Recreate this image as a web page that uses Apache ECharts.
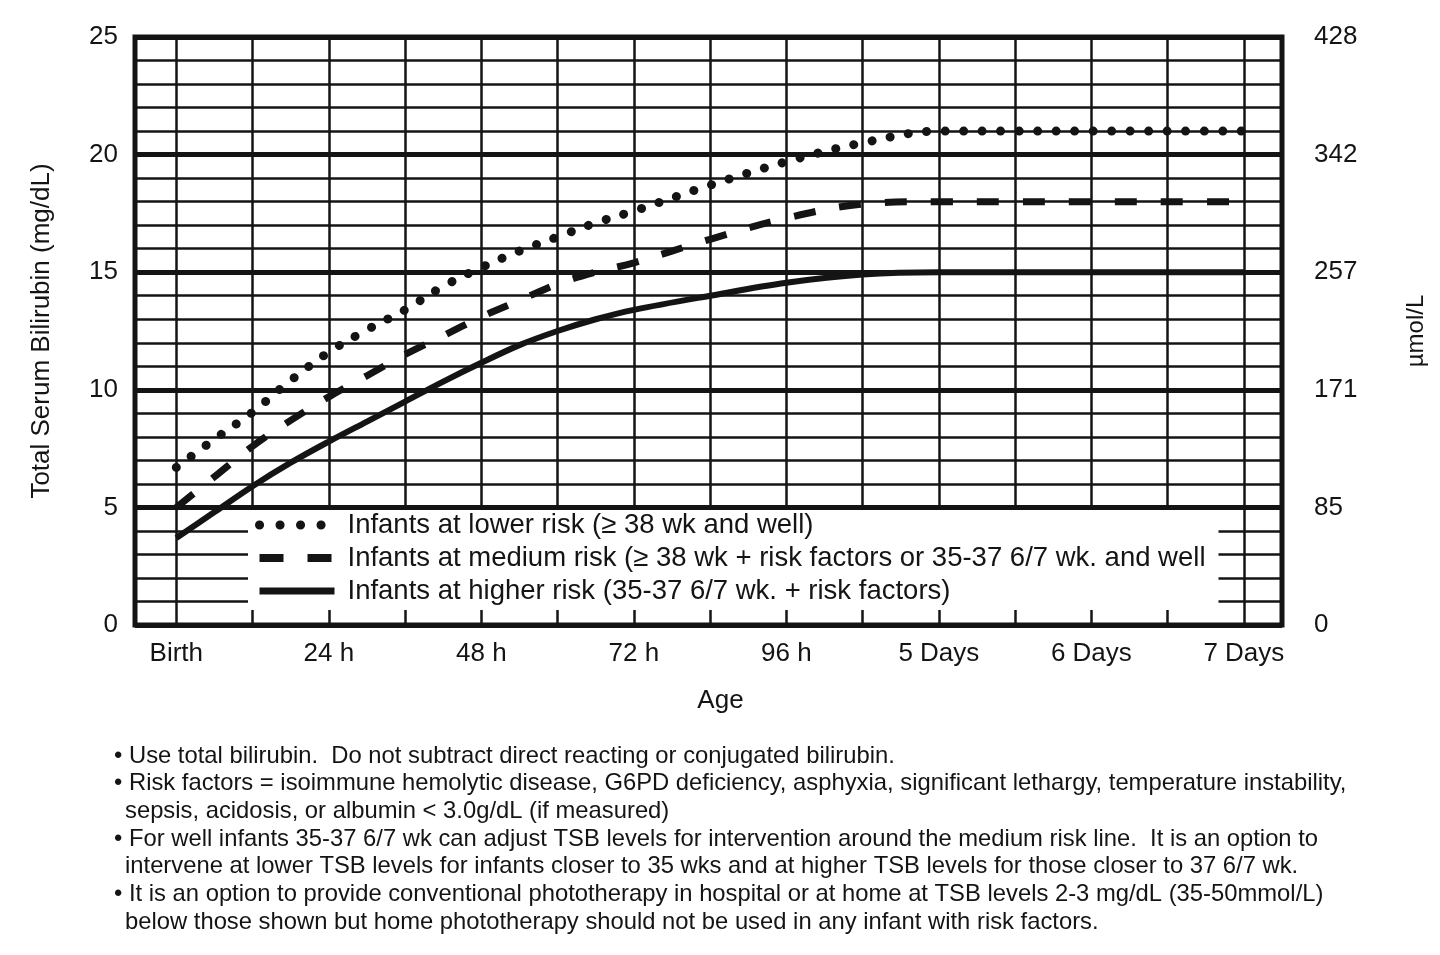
<!DOCTYPE html>
<html>
<head>
<meta charset="utf-8">
<script src="https://cdn.jsdelivr.net/npm/echarts@6/dist/echarts.min.js"></script>
<style>
html,body{margin:0;padding:0;background:#fff;}
#c{width:1440px;height:955px;}
</style>
</head>
<body>
<div id="c"></div>
<script>
// ---- data ----
var hours = [0, 6, 12, 18, 24, 30, 36, 42, 48, 54, 60, 66, 72, 84, 96, 108, 120, 132, 144, 156, 168];
var lowerRisk  = [6.7, 7.9, 9.05, 10.4, 11.6, 12.55, 13.4, 14.4, 15.2, 15.9, 16.5, 17.1, 17.6, 18.7, 19.7, 20.5, 21, 21, 21, 21, 21];
var mediumRisk = [5.0, 6.3, 7.6, 8.7, 9.7, 10.6, 11.5, 12.3, 13.1, 13.8, 14.5, 15.0, 15.4, 16.4, 17.3, 17.9, 18, 18, 18, 18, 18];
var higherRisk = [3.7, 4.8, 5.9, 6.9, 7.8, 8.65, 9.5, 10.35, 11.15, 11.9, 12.5, 13.0, 13.4, 14.0, 14.55, 14.9, 15, 15, 15, 15, 15];
var seriesNames = [
  'Infants at lower risk (\u2265 38 wk and well)',
  'Infants at medium risk (\u2265 38 wk + risk factors or 35-37 6/7 wk. and well',
  'Infants at higher risk (35-37 6/7 wk. + risk factors)'
];
var xLabelValues = [0, 24, 48, 72, 96, 120, 144, 168];
var xLabels = ['Birth', '24 h', '48 h', '72 h', '96 h', '5 Days', '6 Days', '7 Days'];
var xGridValues = [0, 12, 24, 36, 48, 60, 72, 84, 96, 108, 120, 132, 144, 156, 168];
var leftLabels = ['0', '5', '10', '15', '20', '25'];
var umolLabels = ['0', '85', '171', '257', '342', '428'];
var noteLines = [
  { text: '\u2022 Use total bilirubin.  Do not subtract direct reacting or conjugated bilirubin.', indent: 0 },
  { text: '\u2022 Risk factors = isoimmune hemolytic disease, G6PD deficiency, asphyxia, significant lethargy, temperature instability,', indent: 0 },
  { text: 'sepsis, acidosis, or albumin < 3.0g/dL (if measured)', indent: 1 },
  { text: '\u2022 For well infants 35-37 6/7 wk can adjust TSB levels for intervention around the medium risk line.  It is an option to', indent: 0 },
  { text: 'intervene at lower TSB levels for infants closer to 35 wks and at higher TSB levels for those closer to 37 6/7 wk.', indent: 1 },
  { text: '\u2022 It is an option to provide conventional phototherapy in hospital or at home at TSB levels 2-3 mg/dL (35-50mmol/L)', indent: 0 },
  { text: 'below those shown but home phototherapy should not be used in any infant with risk factors.', indent: 1 }
];

function pairs(vals) { return hours.map(function (h, i) { return [h, vals[i]]; }); }

var FONT = '"Liberation Sans", Arial, Helvetica, sans-serif';
var INK = '#141414';

var chart = echarts.init(document.getElementById('c'));

var graphics = noteLines.map(function (ln, i) {
  return {
    type: 'text',
    left: ln.indent ? 125 : 114,
    top: 744 + i * 27.7,
    style: { text: ln.text, fontSize: 23.8, fontFamily: FONT, fill: INK }
  };
});

chart.setOption({
  backgroundColor: '#fff',
  animation: false,
  color: [INK, INK, INK],
  grid: {
    left: 135, right: 158, top: 37, bottom: 330,
    show: true, borderColor: INK, borderWidth: 5, backgroundColor: 'transparent'
  },
  xAxis: {
    type: 'value', min: -6.5, max: 174,
    name: 'Age', nameLocation: 'middle', nameGap: 63,
    nameTextStyle: { fontSize: 26, fontFamily: FONT, color: INK, padding: [0, 0, 0, 24] },
    axisLine: { show: false },
    axisTick: { show: false, customValues: xGridValues },
    axisLabel: {
      customValues: xLabelValues, margin: 16,
      fontSize: 26, fontFamily: FONT, color: INK,
      formatter: function (v) { return xLabels[xLabelValues.indexOf(v)]; }
    },
    splitLine: { show: true, lineStyle: { color: INK, width: 2.5 } }
  },
  yAxis: [
    {
      type: 'value', min: 0, max: 25, interval: 1, position: 'left',
      name: 'Total Serum Bilirubin (mg/dL)', nameLocation: 'middle', nameGap: 80,
      nameTextStyle: { fontSize: 26, fontFamily: FONT, color: INK },
      axisLine: { show: false }, axisTick: { show: false },
      axisLabel: {
        margin: 17, fontSize: 26, fontFamily: FONT, color: INK,
        formatter: function (v) { return v % 5 === 0 ? leftLabels[v / 5] : ''; }
      },
      splitLine: { show: true, lineStyle: { color: INK, width: 2.5 } }
    },
    {
      type: 'value', min: 0, max: 25, interval: 5, position: 'right',
      name: '\u00b5mol/L', nameLocation: 'middle', nameGap: 122,
      nameTextStyle: { fontSize: 24, fontFamily: FONT, color: INK },
      axisLine: { show: false }, axisTick: { show: false },
      axisLabel: {
        margin: 32, fontSize: 26, fontFamily: FONT, color: INK,
        formatter: function (v) { return umolLabels[Math.round(v / 5)]; }
      },
      splitLine: { show: true, lineStyle: { color: INK, width: 5 } }
    }
  ],
  legend: {
    orient: 'vertical', left: 248, top: 510,
    backgroundColor: '#fff', borderWidth: 0,
    padding: [0, 13, 4, 7],
    itemWidth: 75, itemHeight: 14, itemGap: 3,
    selectedMode: false,
    itemStyle: { opacity: 0 },
    textStyle: { fontSize: 27.5, lineHeight: 30, fontFamily: FONT, color: INK, padding: [0, 0, 0, 8] },
    data: [
      { name: seriesNames[0], itemStyle: { opacity: 0 }, lineStyle: { width: 9, type: [0.1, 20.4], cap: 'round', color: INK } },
      { name: seriesNames[1], itemStyle: { opacity: 0 }, lineStyle: { width: 8, type: [24, 24], cap: 'butt', color: INK } },
      { name: seriesNames[2], itemStyle: { opacity: 0 }, lineStyle: { width: 7, type: 'solid', color: INK } }
    ]
  },
  graphic: graphics,
  series: [
    {
      name: seriesNames[0], type: 'line', data: pairs(lowerRisk),
      smooth: 0.35, symbol: 'none', z: 3, itemStyle: { color: INK },
      lineStyle: { color: INK, width: 9, type: [0.1, 18.4], cap: 'round' }
    },
    {
      name: seriesNames[1], type: 'line', data: pairs(mediumRisk),
      smooth: 0.35, symbol: 'none', z: 3, itemStyle: { color: INK },
      lineStyle: { color: INK, width: 7, type: [22, 24], cap: 'butt' }
    },
    {
      name: seriesNames[2], type: 'line', data: pairs(higherRisk),
      smooth: 0.35, symbol: 'none', z: 3, itemStyle: { color: INK },
      lineStyle: { color: INK, width: 6, type: 'solid' }
    }
  ]
});
</script>
</body>
</html>
